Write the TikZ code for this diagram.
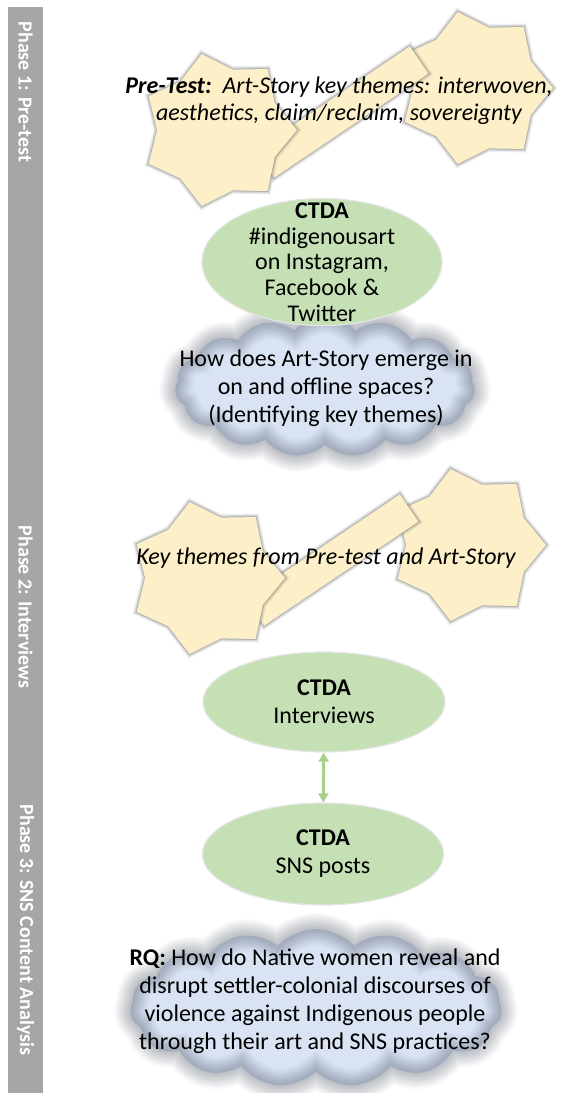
\documentclass[tikz,border=0pt]{standalone}
\usepackage{fontspec}
\setmainfont{Carlito}
\usetikzlibrary{shapes.geometric,shapes.symbols,arrows.meta}

\definecolor{phasegray}{HTML}{A6A6A6}
\definecolor{starfill}{HTML}{FDF0C8}
\definecolor{ctdagreen}{HTML}{C5E0B4}
\definecolor{cloudblue}{HTML}{DAE3F3}
\definecolor{cloudedge}{HTML}{3B4455}
\definecolor{arrowgreen}{HTML}{A9D18E}

\tikzset{
  softedge/.style={
    preaction={draw=#1,line width=7pt,draw opacity=0.12},
    preaction={draw=#1,line width=4.5pt,draw opacity=0.2},
    preaction={draw=#1,line width=2pt,draw opacity=0.35}
  },
  glow/.style={
    postaction={draw=#1,line width=32pt,draw opacity=0.04},
    postaction={draw=#1,line width=28pt,draw opacity=0.04},
    postaction={draw=#1,line width=24pt,draw opacity=0.05},
    postaction={draw=#1,line width=20pt,draw opacity=0.05},
    postaction={draw=#1,line width=16pt,draw opacity=0.05},
    postaction={draw=#1,line width=12pt,draw opacity=0.05},
    postaction={draw=#1,line width=8pt,draw opacity=0.05},
    postaction={draw=#1,line width=4pt,draw opacity=0.05}
  }
}

\begin{document}
\begin{tikzpicture}[x=1pt, y=-1pt]
        \tikzstyle{phase}=[fill=phasegray,inner sep=0pt]
        \tikzstyle{phaselabel}=[rotate=-90,text=white,font=\fontsize{20}{24}\selectfont\bfseries]
        \tikzstyle{themestar}=[star,star points=7,star point ratio=1.26,shape border rotate=-90,minimum size=156pt,inner sep=0pt,fill=starfill,softedge=black!55]
        \tikzstyle{themebar}=[rectangle,minimum width=186pt,minimum height=33pt,inner sep=0pt,rotate=34,fill=starfill,softedge=black!55]
        \tikzstyle{ctda}=[ellipse,fill=ctdagreen,draw=black!10,line width=1.2pt,inner sep=0pt]
        \tikzstyle{question}=[cloud,cloud puffs=15,cloud puff arc=95,cloud ignores aspect,fill=cloudblue,glow=cloudedge,inner sep=0pt]
        \tikzstyle{body}=[align=center,inner sep=0pt,font=\fontsize{24}{28}\selectfont]
        \tikzstyle{slanted}=[body,font=\fontsize{24}{27}\selectfont\itshape]
        \tikzstyle{link}=[draw=arrowgreen,line width=3pt,{Triangle[width=10pt,length=9pt]}-{Triangle[width=10pt,length=9pt]}]

        \useasboundingbox (0,0) rectangle (561,1093);

        % phase column on the left
        \node[phase,minimum width=35pt,minimum height=1086pt,anchor=north west] (column) at (8,7) {};
        \node[phaselabel] (phase1) at (25.5,92) {Phase 1: Pre-test};
        \node[phaselabel] (phase2) at (25.5,607) {Phase 2: Interviews};
        \node[phaselabel] (phase3) at (25.5,930) {Phase 3: SNS Content Analysis};

        % pre-test stars
        \node[themestar] (pre_r) at (475,88) {};
        \node[themebar] (pre_bar) at (342,112) {};
        \node[themestar] (pre_l) at (219,130) {};
        \node[slanted] (pre_text) at (339,101) {\textbf{Pre-Test:}\ \ Art-Story key themes: interwoven,\\aesthetics, claim/reclaim, sovereignty};

        % first question and the hashtag analysis
        \node[question,minimum width=300pt,minimum height=140pt] (emerge) at (325,387) {};
        \node[body] (emerge_text) at (326,388) {How does Art-Story emerge in\\on and offline spaces?\\(Identifying key themes)};
        \node[ctda,minimum width=240pt,minimum height=127pt] (tags) at (322,262) {};
        \node[body,font=\fontsize{24}{25.75}\selectfont] (tags_text) at (tags) {\textbf{CTDA}\\\#indigenousart\\on Instagram,\\Facebook \&\\Twitter};

        % key themes stars
        \node[themestar] (key_r) at (468,545) {};
        \node[themebar] (key_bar) at (332,560) {};
        \node[themestar] (key_l) at (207,578) {};
        \node[slanted] (key_text) at (326,558) {Key themes from Pre-test and Art-Story};

        % interviews and posts
        \node[ctda,minimum width=242pt,minimum height=100pt] (interviews) at (324,702) {};
        \node[body] (interviews_text) at (interviews) {\textbf{CTDA}\\Interviews};
        \node[ctda,minimum width=241pt,minimum height=102pt] (posts) at (323,854) {};
        \node[body] (posts_text) at (posts) {\textbf{CTDA}\\SNS posts};
        \draw[link] (interviews) -- (posts);

        % research question
        \node[question,minimum width=372pt,minimum height=158pt] (rq) at (316,1008) {};
        \node[body] (rq_text) at (315,1001) {\textbf{RQ:} How do Native women reveal and\\disrupt settler-colonial discourses of\\violence against Indigenous people\\through their art and SNS practices?};
\end{tikzpicture}
\end{document}
